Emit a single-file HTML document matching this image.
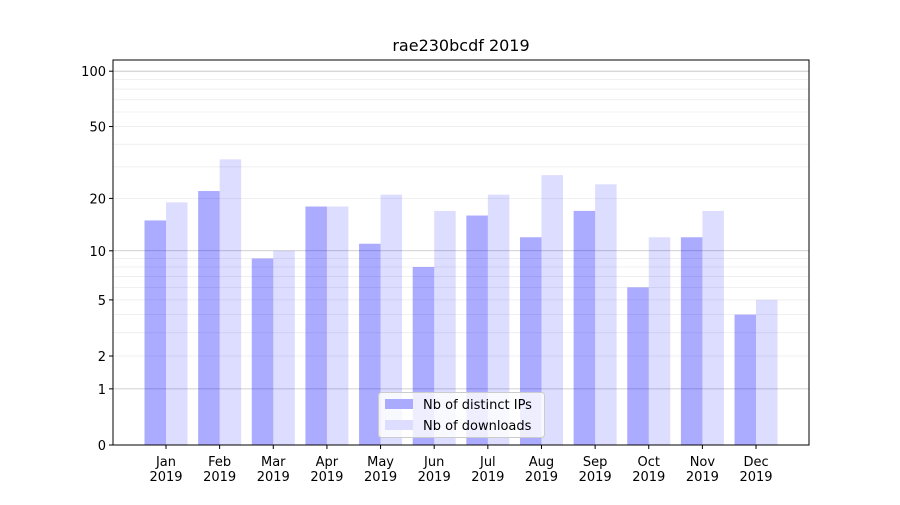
<!DOCTYPE html>
<html><head><meta charset="utf-8"><style>
body{margin:0;background:#fff}
svg text{font-family:"DejaVu Sans","Liberation Sans",sans-serif;font-size:13px;fill:#000}
</style></head><body>
<svg id="s" width="900" height="500" xmlns="http://www.w3.org/2000/svg"></svg>
<script>
const s=document.getElementById('s');
const L=113,R=809,T=60,B=445,K=186.5;
const Y=v=>B-K*Math.log10(1+v);
let h='';
const minors=[2,3,4,5,6,7,8,9,20,30,40,50,60,70,80,90];
minors.forEach(v=>{const y=Y(v);if(y>T)h+=`<line x1="${L}" x2="${R}" y1="${y}" y2="${y}" stroke="#ebebeb" stroke-width="0.8"/>`;});
[1,10,100].forEach(v=>{const y=Y(v);h+=`<line x1="${L}" x2="${R}" y1="${y}" y2="${y}" stroke="#c0c0c0" stroke-width="0.8"/>`;});
const ips=[15,22,9,18,11,8,16,12,17,6,12,4];
const dl=[19,33,10,18,21,17,21,27,24,12,17,5];
const m=['Jan','Feb','Mar','Apr','May','Jun','Jul','Aug','Sep','Oct','Nov','Dec'];
const w=21.5;
for(let i=0;i<12;i++){
 const c=166+i*53.64;
 h+=`<rect x="${c-w}" y="${Y(ips[i])}" width="${w}" height="${B-Y(ips[i])}" fill="rgba(0,0,255,0.33)"/>`;
 h+=`<rect x="${c}" y="${Y(dl[i])}" width="${w}" height="${B-Y(dl[i])}" fill="rgba(0,0,255,0.133)"/>`;
 h+=`<line x1="${c}" x2="${c}" y1="${B}" y2="${B+4}" stroke="#000"/>`;
 h+=`<text x="${c}" y="${B+21}" text-anchor="middle">${m[i]}</text><text x="${c}" y="${B+36}" text-anchor="middle">2019</text>`;
}
[0,1,2,5,10,20,50,100].forEach(v=>{const y=Y(v);h+=`<line x1="${L-4}" x2="${L}" y1="${y}" y2="${y}" stroke="#000"/><text x="${L-7}" y="${y+5}" text-anchor="end">${v}</text>`;});
h+=`<rect x="${L}" y="${T}" width="${R-L}" height="${B-T}" fill="none" stroke="#000" stroke-width="1"/>`;
h+=`<text x="461" y="51" text-anchor="middle" style="font-size:16px">rae230bcdf 2019</text>`;
h+=`<rect x="378.5" y="392.5" width="166" height="45" rx="3" fill="#fff" fill-opacity="0.8" stroke="#ccc"/>`;
h+=`<rect x="385" y="399" width="28" height="10" fill="#aaaaff"/><text x="423" y="409">Nb of distinct IPs</text>`;
h+=`<rect x="385" y="420" width="28" height="10" fill="#ddddff"/><text x="423" y="430">Nb of downloads</text>`;
s.innerHTML=h;
</script>
</body></html>
